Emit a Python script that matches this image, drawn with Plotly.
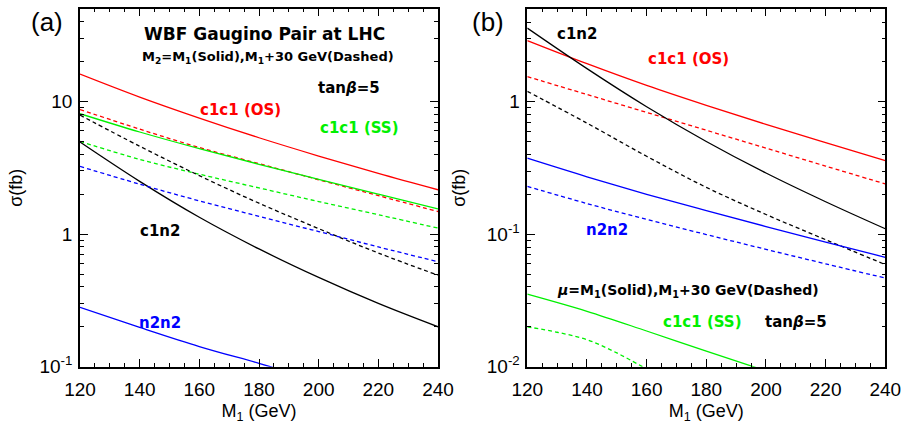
import plotly.graph_objects as go
from plotly.subplots import make_subplots

# neutralino/chargino mass scan (GeV)
M1 = [120, 140, 160, 180, 200, 220, 240]

# (a) WBF gaugino pairs, M2 = M1 (solid) and M2 = M1 + 30 GeV (dashed), tan(beta)=5, sigma in fb
a_c1c1_os_solid = [16.1, 10.8, 7.5, 5.33, 3.88, 2.87, 2.16]
a_c1c1_os_dashed = [8.7, 6.19, 4.5, 3.40, 2.57, 1.95, 1.48]
a_c1c1_ss_solid = [8.09, 5.89, 4.41, 3.36, 2.59, 2.0, 1.55]
a_c1c1_ss_dashed = [5.0, 3.66, 2.83, 2.23, 1.76, 1.40, 1.11]
a_c1n2_solid = [4.95, 2.5, 1.34, 0.773, 0.471, 0.30, 0.20]
a_c1n2_dashed = [7.9, 4.6, 2.76, 1.71, 1.10, 0.72, 0.49]
a_n2n2_solid_m = [120, 140, 160, 180, 190]
a_n2n2_solid = [0.28, 0.198, 0.142, 0.106, 0.091]
a_n2n2_dashed = [3.24, 2.38, 1.78, 1.36, 1.045, 0.80, 0.62]

# (b) mu = M1 (solid) and mu = M1 + 30 GeV (dashed), tan(beta)=5, sigma in fb
b_c1c1_os_solid = [2.9, 1.94, 1.33, 0.94, 0.675, 0.491, 0.36]
b_c1c1_os_dashed = [1.55, 1.135, 0.832, 0.61, 0.447, 0.327, 0.24]
b_c1n2_solid = [3.6, 1.78, 0.918, 0.502, 0.29, 0.176, 0.110]
b_c1n2_dashed = [1.2, 0.69, 0.388, 0.226, 0.141, 0.091, 0.059]
b_n2n2_solid = [0.375, 0.2716, 0.2004, 0.1507, 0.1143, 0.0873, 0.067]
b_n2n2_dashed = [0.23, 0.1706, 0.1294, 0.0995, 0.0769, 0.0598, 0.0467]
b_c1c1_ss_solid_m = [120, 140, 160, 180, 200]
b_c1c1_ss_solid = [0.0353, 0.0262, 0.0186, 0.0131, 0.0093]
b_c1c1_ss_dashed_m = [120, 130, 140, 150, 160]
b_c1c1_ss_dashed = [0.020, 0.0182, 0.016, 0.0127, 0.0096]

x_ticks = [120, 140, 160, 180, 200, 220, 240]
a_y_ticks = [0.1, 1, 10]
a_y_text = ["10<sup>-1</sup>", "1", "10"]
b_y_ticks = [0.01, 0.1, 1]
b_y_text = ["10<sup>-2</sup>", "10<sup>-1</sup>", "1"]

RED, GREEN, BLUE, BLACK = "#ff0000", "#00f000", "#0000ff", "#000000"
DASH = "4px,3px"
W, H = 901, 424

fig = make_subplots(rows=1, cols=2, horizontal_spacing=0.1)


def add_curve(col, x, y, color, dashed):
    fig.add_trace(
        go.Scatter(
            x=x, y=y, mode="lines", showlegend=False, hoverinfo="skip",
            line=dict(color=color, width=1.3, shape="spline",
                      dash=DASH if dashed else "solid"),
        ),
        row=1, col=col,
    )


# panel (a)
add_curve(1, M1, a_c1c1_os_solid, RED, False)
add_curve(1, M1, a_c1c1_os_dashed, RED, True)
add_curve(1, M1, a_c1c1_ss_dashed, GREEN, True)
add_curve(1, M1, a_c1c1_ss_solid, GREEN, False)
add_curve(1, M1, a_c1n2_solid, BLACK, False)
add_curve(1, M1, a_c1n2_dashed, BLACK, True)
add_curve(1, a_n2n2_solid_m, a_n2n2_solid, BLUE, False)
add_curve(1, M1, a_n2n2_dashed, BLUE, True)

# panel (b)
add_curve(2, M1, b_c1c1_os_solid, RED, False)
add_curve(2, M1, b_c1c1_os_dashed, RED, True)
add_curve(2, M1, b_c1n2_solid, BLACK, False)
add_curve(2, M1, b_c1n2_dashed, BLACK, True)
add_curve(2, M1, b_n2n2_solid, BLUE, False)
add_curve(2, M1, b_n2n2_dashed, BLUE, True)
add_curve(2, b_c1c1_ss_solid_m, b_c1c1_ss_solid, GREEN, False)
add_curve(2, b_c1c1_ss_dashed_m, b_c1c1_ss_dashed, GREEN, True)

plain = "Liberation Sans, Arial, sans-serif"
tick_font = dict(family=plain, size=19, color="black")
title_font = dict(family=plain, size=18, color="black")
axis_common = dict(
    showline=True, linecolor="black", linewidth=1.5, mirror="allticks",
    ticks="inside", ticklen=8, tickwidth=1.2, tickcolor="black",
    showgrid=False, zeroline=False, tickfont=tick_font, automargin=False,
    ticklabeloverflow="allow",
)

x_dom = [(80 / W, 438 / W), (527.3 / W, 885.3 / W)]
y_dom = [1 - 366.7 / H, 1 - 8.7 / H]

for col in (1, 2):
    fig.update_xaxes(
        range=[120, 240], tickvals=x_ticks, domain=x_dom[col - 1],
        minor=dict(dtick=5, ticks="inside", ticklen=4, tickwidth=1, tickcolor="black"),
        ticklabelstandoff=5,
        title=dict(text="M<sub>1</sub> (GeV)", font=title_font, standoff=12),
        **axis_common, row=1, col=col,
    )

y_minor = dict(dtick="D1", ticks="inside", ticklen=4, tickwidth=1, tickcolor="black", showgrid=False)
fig.update_yaxes(
    type="log", range=[-1, 1.70], tickvals=a_y_ticks, ticktext=a_y_text,
    domain=y_dom, minor=y_minor, ticklabelstandoff=2,
    title=dict(text="σ(fb)", font=title_font, standoff=12),
    **axis_common, row=1, col=1,
)
fig.update_yaxes(
    type="log", range=[-2, 0.703], tickvals=b_y_ticks, ticktext=b_y_text,
    domain=y_dom, minor=y_minor, ticklabelstandoff=2,
    title=dict(text="σ(fb)", font=title_font, standoff=16),
    **axis_common, row=1, col=2,
)


def label(px, py, text, color="black", size=15, family="DejaVu Sans, sans-serif", bold=True):
    fig.add_annotation(
        x=px / W, y=1 - py / H, xref="paper", yref="paper",
        text=f"<b>{text}</b>" if bold else text, showarrow=False,
        xanchor="center", yanchor="middle",
        font=dict(family=family, size=size, color=color),
    )


# panel (a) labels
label(47, 22, "(a)", size=26, family=plain, bold=False)
label(264, 34, "WBF Gaugino Pair at LHC", size=17)
label(268, 57, "M<sub>2</sub>=M<sub>1</sub>(Solid),M<sub>1</sub>+30 GeV(Dashed)", size=13)
label(349, 88, "tan<i>β</i>=5", size=15)
label(241, 110, "c1c1 (OS)", color=RED, size=15)
label(359, 128, "c1c1 (SS)", color=GREEN, size=15)
label(160, 231, "c1n2", size=15)
label(160, 323, "n2n2", color=BLUE, size=15)

# panel (b) labels
label(488, 22, "(b)", size=26, family=plain, bold=False)
label(577, 34, "c1n2", size=15)
label(688, 59, "c1c1 (OS)", color=RED, size=15)
label(607, 230, "n2n2", color=BLUE, size=15)
label(688, 291, "<i>μ</i>=M<sub>1</sub>(Solid),M<sub>1</sub>+30 GeV(Dashed)", size=14)
label(702, 322, "c1c1 (SS)", color=GREEN, size=15)
label(796, 322, "tan<i>β</i>=5", size=15)

fig.update_layout(
    width=W, height=H, margin=dict(l=0, r=0, t=0, b=0),
    paper_bgcolor="white", plot_bgcolor="white",
)

fig.write_html("out.html")
